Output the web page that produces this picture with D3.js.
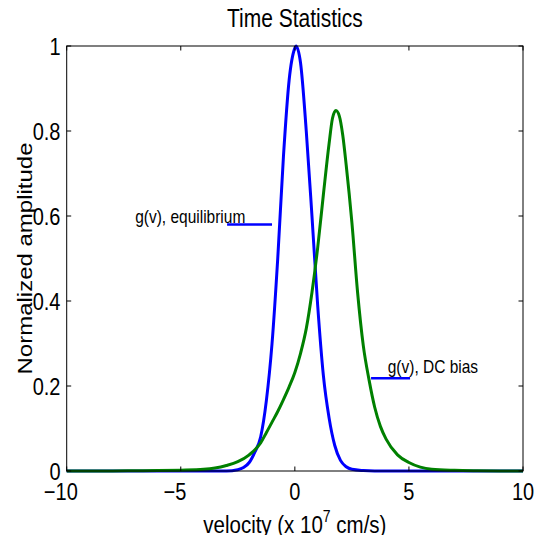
<!DOCTYPE html>
<html>
<head>
<meta charset="utf-8">
<script src="https://d3js.org/d3.v7.min.js"></script>
<style>
  body { margin: 0; background: #fff; }
  text { font-family: "Liberation Sans", Arial, sans-serif; fill: #000; }
</style>
</head>
<body>
<script>
// values
var eqVel = [-10, -8, -6, -4, -3, -2.5, -2.25, -2, -1.75, -1.5, -1.25, -1, -0.75, -0.5, -0.25,
             0, 0.05, 0.25, 0.5, 0.75, 1, 1.25, 1.5, 1.75, 2, 2.25, 2.5, 3, 3.5, 4, 6, 8, 10];
var equilibrium = [0, 0, 0, 0, 0, 0.003, 0.008, 0.02, 0.045, 0.08, 0.165, 0.3, 0.5, 0.74, 0.92,
                   0.995, 1, 0.96, 0.8, 0.6, 0.39, 0.225, 0.125, 0.06, 0.025, 0.01, 0.004, 0.001, 0, 0, 0, 0, 0];

var dcVel = [-10, -8, -7, -6, -5, -4, -3.5, -3, -2.5, -2, -1.5, -1.25, -1, -0.75, -0.5, -0.25,
             0, 0.25, 0.5, 0.75, 1, 1.25, 1.5, 1.65, 1.8, 1.95, 2.1, 2.25, 2.5, 2.75,
             3, 3.25, 3.5, 3.75, 4, 4.5, 5, 5.5, 6, 7, 8, 9, 10];
var dcBias = [0, 0, 0.0005, 0.001, 0.002, 0.004, 0.007, 0.013, 0.022, 0.038, 0.066, 0.09, 0.115, 0.14, 0.168, 0.198,
              0.232, 0.277, 0.335, 0.42, 0.525, 0.65, 0.77, 0.83, 0.848, 0.835, 0.79, 0.72, 0.585, 0.42,
              0.295, 0.215, 0.15, 0.105, 0.075, 0.038, 0.02, 0.009, 0.004, 0.0015, 0.0005, 0, 0];

var xTicks = [-10, -5, 0, 5, 10];
var yTicks = [0, 0.2, 0.4, 0.6, 0.8, 1];

var labelText = ["g(v), equilibrium", "g(v), DC bias"];
var labelAt = [[-7.0, 0.584], [4.07, 0.23]];
var markerFrom = [[-2.97, 0.58], [3.34, 0.218]];
var markerTo = [[-1.0, 0.58], [5.05, 0.218]];

var W = 535, H = 535;
var x = d3.scaleLinear().domain([-10, 10]).range([66.7, 523]);
var y = d3.scaleLinear().domain([0, 1]).range([471, 46]);

var svg = d3.select("body").append("svg")
    .attr("width", W)
    .attr("height", H);

// text is drawn a bit taller than wide, like the picture
function label(px, py, str, size, anchor) {
    return svg.append("text")
        .attr("transform", "translate(" + px + "," + py + ") scale(1,1.2)")
        .attr("font-size", size)
        .attr("text-anchor", anchor || "start")
        .text(str);
}

// curves
var line = d3.line()
    .x(function(d) { return x(d[0]); })
    .y(function(d) { return y(d[1]); })
    .curve(d3.curveMonotoneX);

svg.append("path")
    .datum(d3.zip(eqVel, equilibrium))
    .attr("fill", "none")
    .attr("stroke", "#0000ff")
    .attr("stroke-width", 3)
    .attr("d", line);

svg.append("path")
    .datum(d3.zip(dcVel, dcBias))
    .attr("fill", "none")
    .attr("stroke", "#008000")
    .attr("stroke-width", 3)
    .attr("d", line);

// box and inside ticks
svg.append("rect")
    .attr("x", x(-10)).attr("y", y(1))
    .attr("width", x(10) - x(-10)).attr("height", y(0) - y(1))
    .attr("fill", "none").attr("stroke", "#000").attr("stroke-width", 1);

var tl = 4.5;
xTicks.forEach(function(t) {
    svg.append("line").attr("x1", x(t)).attr("x2", x(t)).attr("y1", y(0)).attr("y2", y(0) - tl)
        .attr("stroke", "#000");
    svg.append("line").attr("x1", x(t)).attr("x2", x(t)).attr("y1", y(1)).attr("y2", y(1) + tl)
        .attr("stroke", "#000");
    // digits centred on the tick, minus sign hanging to the left
    label(x(t), 500, String(Math.abs(t)), 20, "middle");
    if (t < 0) {
        var half = String(Math.abs(t)).length * 5.6;
        label(x(t) - half, 500, "\u2212", 20, "end");
    }
});

yTicks.forEach(function(t) {
    svg.append("line").attr("x1", x(-10)).attr("x2", x(-10) + tl).attr("y1", y(t)).attr("y2", y(t))
        .attr("stroke", "#000");
    svg.append("line").attr("x1", x(10)).attr("x2", x(10) - tl).attr("y1", y(t)).attr("y2", y(t))
        .attr("stroke", "#000");
    label(60.5, y(t) + 8.5, String(t), 20, "end");
});

// title and axis labels
label(x(0), 27, "Time Statistics", 21, "middle");

var xl = label(x(0), 533, "", 20.5, "middle");
xl.append("tspan").text("velocity (x 10");
xl.append("tspan").attr("font-size", 14).attr("dy", -9).text("7");
xl.append("tspan").attr("dy", 9).text(" cm/s)");

svg.append("text")
    .attr("transform", "translate(32," + ((y(0) + y(1)) / 2) + ") scale(1,1.2) rotate(-90)")
    .attr("font-size", 20)
    .attr("text-anchor", "middle")
    .text("Normalized amplitude");

// curve labels with their short blue markers
labelText.forEach(function(s, i) {
    label(x(labelAt[i][0]), y(labelAt[i][1]), s, 15.5, "start");
});
labelText.forEach(function(s, i) {
    svg.append("line")
        .attr("x1", x(markerFrom[i][0])).attr("y1", y(markerFrom[i][1]))
        .attr("x2", x(markerTo[i][0])).attr("y2", y(markerTo[i][1]))
        .attr("stroke", "#0000ff").attr("stroke-width", 2.5);
});
</script>
</body>
</html>
